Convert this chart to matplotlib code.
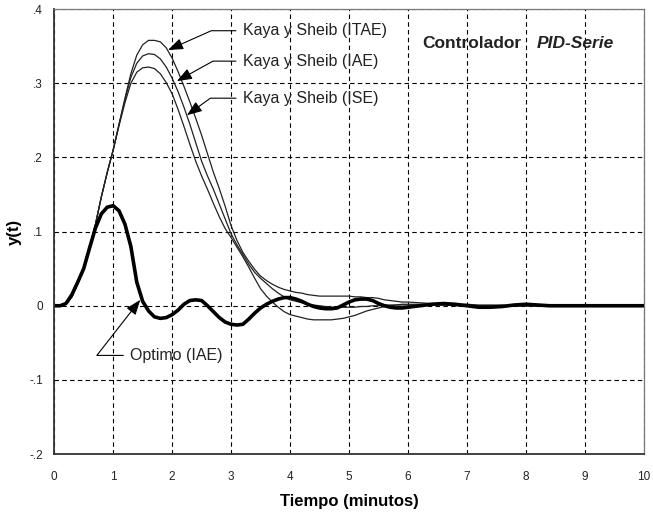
import numpy as np
import matplotlib
matplotlib.use('Agg')
import matplotlib.pyplot as plt
from matplotlib.ticker import FixedLocator, FixedFormatter

plt.rcParams['font.family'] = ['Liberation Sans', 'DejaVu Sans']

# sample times (minutes)
t = np.round(np.concatenate([np.arange(0, 6.01, 0.1), np.arange(6.2, 8.41, 0.2), [9.0, 10.0]]), 2)

kaya_itae = [0, 0, 0.002, 0.012, 0.03, 0.05, 0.078, 0.11, 0.147, 0.18,
             0.21, 0.245, 0.28, 0.313, 0.338, 0.352, 0.358, 0.358, 0.356, 0.348,
             0.334, 0.316, 0.296, 0.275, 0.253, 0.23, 0.205, 0.18, 0.158, 0.134,
             0.108, 0.088, 0.072, 0.06, 0.049, 0.04, 0.034, 0.029, 0.025, 0.022,
             0.02, 0.018, 0.017, 0.015, 0.014, 0.013, 0.013, 0.013, 0.013, 0.013,
             0.013, 0.012, 0.012, 0.011, 0.011, 0.01, 0.008, 0.007, 0.006, 0.005,
             0.005,
             0.004, 0.003, 0.003, 0.002, 0.002, 0.001, 0.001, 0.001, 0, 0, 0, 0,
             0, 0]

kaya_iae = [0, 0, 0.002, 0.012, 0.03, 0.05, 0.078, 0.11, 0.147, 0.18,
            0.21, 0.245, 0.278, 0.308, 0.327, 0.337, 0.34, 0.339, 0.333, 0.322,
            0.307, 0.289, 0.268, 0.245, 0.22, 0.195, 0.175, 0.157, 0.137, 0.117,
            0.097, 0.082, 0.069, 0.056, 0.045, 0.037, 0.03, 0.023, 0.017, 0.012,
            0.008, 0.006, 0.004, 0.002, 0.001, 0, -0.001, -0.002, -0.002, -0.002,
            -0.002, -0.002, -0.001, -0.001, 0, 0, 0.001, 0.001, 0.001, 0.001,
            0.001,
            0.001, 0.001, 0.001, 0, 0, 0, 0, 0, 0, 0, 0, 0,
            0, 0]

kaya_ise = [0, 0, 0.002, 0.012, 0.03, 0.05, 0.078, 0.11, 0.147, 0.18,
            0.21, 0.243, 0.274, 0.3, 0.315, 0.321, 0.322, 0.32, 0.313, 0.301,
            0.286, 0.265, 0.242, 0.218, 0.195, 0.175, 0.157, 0.138, 0.12, 0.104,
            0.092, 0.079, 0.066, 0.052, 0.037, 0.023, 0.013, 0.005, -0.002, -0.008,
            -0.012, -0.014, -0.016, -0.018, -0.019, -0.019, -0.019, -0.019, -0.018, -0.017,
            -0.015, -0.013, -0.01, -0.007, -0.005, -0.003, -0.001, 0, 0.001, 0.002,
            0.002,
            0.002, 0.002, 0.001, 0.001, 0.001, 0, 0, 0, 0, 0, 0, 0,
            0, 0]

optimo_iae = [0, 0, 0.003, 0.015, 0.032, 0.05, 0.078, 0.105, 0.124, 0.133,
              0.135, 0.128, 0.11, 0.08, 0.032, 0.006, -0.007, -0.015, -0.017, -0.016,
              -0.012, -0.006, 0.002, 0.007, 0.008, 0.007, 0.0, -0.008, -0.016, -0.022,
              -0.025, -0.026, -0.025, -0.018, -0.01, -0.003, 0.002, 0.006, 0.009, 0.011,
              0.011, 0.009, 0.006, 0.002, -0.001, -0.003, -0.004, -0.004, -0.003, 0.001,
              0.005, 0.008, 0.009, 0.009, 0.007, 0.003, 0.0, -0.002, -0.003, -0.003,
              -0.002,
              0.0, 0.002, 0.003, 0.002, 0.0, -0.002, -0.002, -0.001, 0.001, 0.002, 0.001, 0,
              0, 0]

yticks = [-0.2, -0.1, 0, 0.1, 0.2, 0.3, 0.4]
ytick_labels = ['-.2', '-.1', '0', '.1', '.2', '.3', '.4']
xticks = list(range(0, 11))

fig = plt.figure(figsize=(6.53, 5.13), dpi=100)
ax = fig.add_axes([0.083, 0.115, 0.903, 0.867])

ax.plot(t, kaya_itae, color='#222222', lw=0.9)
ax.plot(t, kaya_iae, color='#222222', lw=0.9)
ax.plot(t, kaya_ise, color='#222222', lw=0.9)
ax.plot(t, optimo_iae, color='black', lw=2.6, solid_joinstyle='round')

ax.set_xlim(0, 10)
ax.set_ylim(-0.2, 0.4)
ax.xaxis.set_major_locator(FixedLocator(xticks))
ax.yaxis.set_major_locator(FixedLocator(yticks))
ax.yaxis.set_major_formatter(FixedFormatter(ytick_labels))
ax.tick_params(length=0, labelsize=8.5, labelcolor='#222222')
ax.tick_params(axis='x', pad=12)
ax.tick_params(axis='y', pad=8)
ax.grid(True, color='black', ls=(0, (4, 3)), lw=0.8)

for s in ['left', 'bottom']:
    ax.spines[s].set_color('#333333')
    ax.spines[s].set_linewidth(1.3)
for s in ['top', 'right']:
    ax.spines[s].set_color('#777777')
    ax.spines[s].set_linewidth(0.9)

ax.set_xlabel('Tiempo (minutos)', fontsize=12, fontweight='bold', labelpad=8)
ax.set_ylabel('y(t)', fontsize=12, fontweight='bold')
ax.yaxis.set_label_coords(-0.055, 0.5)

arrow = dict(arrowstyle='-|>,head_length=0.8,head_width=0.3', color='black',
             lw=0.8, shrinkA=3, shrinkB=0)
txt = dict(fontsize=11.5, color='#222222', ha='left', va='center')

ax.annotate('Kaya y Sheib (ITAE)', xy=(1.93, 0.345), xytext=(3.2, 0.371),
            arrowprops=dict(connectionstyle='angle,angleA=0,angleB=24,rad=0', **arrow), **txt)
ax.annotate('Kaya y Sheib (IAE)', xy=(2.08, 0.303), xytext=(3.2, 0.330),
            arrowprops=dict(connectionstyle='angle,angleA=0,angleB=29,rad=0', **arrow), **txt)
ax.annotate('Kaya y Sheib (ISE)', xy=(2.25, 0.257), xytext=(3.2, 0.280),
            arrowprops=dict(connectionstyle='angle,angleA=0,angleB=36,rad=0', **arrow), **txt)
ax.annotate('Optimo (IAE)', xy=(1.46, 0.008), xytext=(1.29, -0.067),
            arrowprops=dict(connectionstyle='angle,angleA=0,angleB=52,rad=0', **arrow), **txt)

ax.text(6.25, 0.354, 'Controlador', fontsize=12.5, fontweight='bold', color='#222222',
        ha='left', va='center')
ax.text(8.19, 0.354, 'PID-Serie', fontsize=12.5, fontweight='bold', style='italic',
        color='#222222', ha='left', va='center')

fig.savefig('out.png', dpi=100)
